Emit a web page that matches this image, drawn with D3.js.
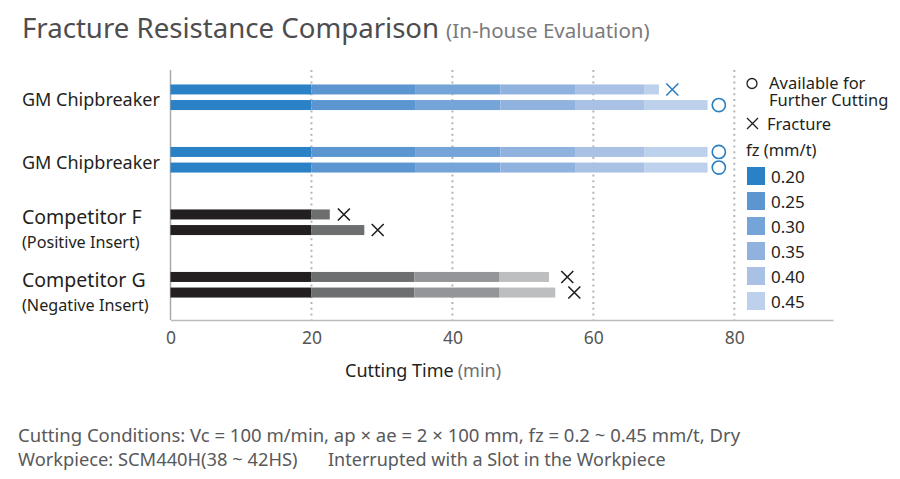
<!DOCTYPE html>
<html>
<head>
<meta charset="utf-8">
<script src="https://cdn.jsdelivr.net/npm/d3@7"></script>
<style>
  body { margin: 0; background: #fff; }
  svg { display: block; font-family: "Noto Sans", sans-serif; }
</style>
</head>
<body>
<svg id="chart" width="900" height="479"></svg>
<script>
// categories shown on the left
const categories = ['GM Chipbreaker', 'GM Chipbreaker', 'Competitor F', 'Competitor G'];
const subLabels = ['', '', '(Positive Insert)', '(Negative Insert)'];

// fz steps (legend)
const fzSteps = ['0.20', '0.25', '0.30', '0.35', '0.40', '0.45'];
const blues = ['#2a81c6', '#5b96d0', '#74a4d8', '#90b2de', '#a8c1e5', '#bdd0ec'];
const greys = ['#231f20', '#6d6e70', '#939598', '#bcbec0'];

// cumulative cutting time (min) at end of each fz step, two tests per category
const gmTopRow = [20, 34.7, 46.8, 57.4, 67.2, 69.3];
const gmBottomRow = [20, 34.7, 46.8, 57.4, 67.2, 76.2];
const gm2TopRow = [20, 34.7, 46.8, 57.4, 67.2, 76.2];
const gm2BottomRow = [20, 34.7, 46.8, 57.4, 67.2, 76.2];
const compFTopRow = [20, 22.6];
const compFBottomRow = [20, 27.5];
const compGTopRow = [20, 34.6, 46.7, 53.7];
const compGBottomRow = [20, 34.6, 46.7, 54.6];

// result markers: 'x' = fracture, 'o' = available for further cutting
const resultTypes = [['x', 'o'], ['o', 'o'], ['x', 'x'], ['x', 'x']];
const resultTimes = [[71.2, 77.8], [77.8, 77.8], [24.6, 29.4], [56.3, 57.3]];

const xTicks = [0, 20, 40, 60, 80];

const rows = [
  [gmTopRow, gmBottomRow],
  [gm2TopRow, gm2BottomRow],
  [compFTopRow, compFBottomRow],
  [compGTopRow, compGBottomRow]
];

const svg = d3.select('#chart');
const plot = { left: 170.5, right: 833, top: 70, bottom: 320 };

const x = d3.scaleLinear().domain([0, 94]).range([plot.left, plot.right]);
const y = d3.scaleBand().domain(d3.range(categories.length)).range([66, 316]);
const rowOffset = d3.scaleOrdinal().domain([0, 1]).range([-7.8, 7.8]);
const barH = 10;

// title
const title = svg.append('text').attr('x', 22).attr('y', 38)
  .attr('font-size', 27.6).attr('fill', '#4d4d4f');
title.append('tspan').text('Fracture Resistance Comparison');
title.append('tspan').attr('font-size', 20.5).attr('fill', '#7a7a7c').attr('dx', 7)
  .text('(In-house Evaluation)');

// grid
svg.append('g')
  .selectAll('line')
  .data(xTicks.filter(d => d > 0))
  .join('line')
  .attr('x1', d => x(d)).attr('x2', d => x(d))
  .attr('y1', plot.top).attr('y2', plot.bottom)
  .attr('stroke', '#b5b5b5').attr('stroke-width', 2)
  .attr('stroke-dasharray', '2,3.8');

// axes
const xAxis = svg.append('g')
  .attr('transform', `translate(0,${plot.bottom})`)
  .call(d3.axisBottom(x).tickValues(xTicks).tickSize(0).tickPadding(12));
xAxis.select('.domain').attr('stroke', '#bcbcbc').attr('stroke-width', 1.5);
xAxis.selectAll('text').attr('font-size', 17.5).attr('fill', '#555')
  .attr('font-family', '"Noto Sans", sans-serif');

svg.append('line')
  .attr('x1', plot.left).attr('x2', plot.left)
  .attr('y1', plot.top).attr('y2', plot.bottom)
  .attr('stroke', '#aaa').attr('stroke-width', 1.5);

const xTitle = svg.append('text').attr('x', 345).attr('y', 377)
  .attr('font-size', 18).attr('fill', '#231f20');
xTitle.append('tspan').text('Cutting Time');
xTitle.append('tspan').attr('fill', '#6d6e70').attr('dx', 4).text('(min)');

// bars
rows.forEach((pair, gi) => {
  const palette = gi < 2 ? blues : greys;
  pair.forEach((ends, ri) => {
    const yc = y(gi) + y.bandwidth() / 2 + rowOffset(ri);
    svg.append('g')
      .selectAll('rect')
      .data(ends)
      .join('rect')
      .attr('x', (d, i) => x(i === 0 ? 0 : ends[i - 1]))
      .attr('width', (d, i) => x(d) - x(i === 0 ? 0 : ends[i - 1]))
      .attr('y', yc - barH / 2)
      .attr('height', barH)
      .attr('fill', (d, i) => palette[i]);

    const type = resultTypes[gi][ri];
    const mx = x(resultTimes[gi][ri]);
    const col = gi < 2 ? '#2a7fc4' : '#231f20';
    if (type === 'o') {
      svg.append('circle').attr('cx', mx).attr('cy', yc).attr('r', 6.6)
        .attr('fill', 'none').attr('stroke', col).attr('stroke-width', 1.6);
    } else {
      const s = 6;
      svg.append('path')
        .attr('d', `M${mx - s},${yc - s}L${mx + s},${yc + s}M${mx - s},${yc + s}L${mx + s},${yc - s}`)
        .attr('stroke', col).attr('stroke-width', 1.6).attr('fill', 'none');
    }
  });
});

// category labels
categories.forEach((c, i) => {
  const yc = y(i) + y.bandwidth() / 2;
  if (subLabels[i]) {
    svg.append('text').attr('x', 22).attr('y', yc + 2)
      .attr('font-size', 19.5).attr('fill', '#231f20').text(c);
    svg.append('text').attr('x', 22).attr('y', yc + 26)
      .attr('font-size', 16.2).attr('fill', '#231f20').text(subLabels[i]);
  } else {
    svg.append('text').attr('x', 22).attr('y', yc + 9)
      .attr('font-size', 18).attr('fill', '#231f20').text(c);
  }
});

// legend
const lg = svg.append('g').attr('font-size', 16.5).attr('fill', '#231f20');
lg.append('circle').attr('cx', 752).attr('cy', 83.5).attr('r', 5)
  .attr('fill', 'none').attr('stroke', '#231f20').attr('stroke-width', 1.3);
const avail = lg.append('text').attr('x', 769).attr('y', 89);
avail.append('tspan').text('Available for');
avail.append('tspan').attr('x', 769).attr('dy', 17).text('Further Cutting');
lg.append('path').attr('d', 'M747,118L758,129M747,129L758,118')
  .attr('stroke', '#231f20').attr('stroke-width', 1.3);
lg.append('text').attr('x', 767).attr('y', 130).text('Fracture');
lg.append('text').attr('x', 746).attr('y', 156).text('fz (mm/t)');

const ly = d3.scaleBand().domain(fzSteps).range([167, 317]);
lg.selectAll('rect.sw')
  .data(fzSteps)
  .join('rect')
  .attr('class', 'sw')
  .attr('x', 747).attr('y', d => ly(d))
  .attr('width', 18).attr('height', 18)
  .attr('fill', (d, i) => blues[i]);
lg.selectAll('text.lv')
  .data(fzSteps)
  .join('text')
  .attr('class', 'lv')
  .attr('x', 771).attr('y', d => ly(d) + 16)
  .attr('font-size', 17)
  .text(d => d);

// footnotes
const notes = svg.append('g').attr('fill', '#58595b');
notes.append('text').attr('x', 18).attr('y', 442).attr('font-size', 18.5)
  .text('Cutting Conditions: Vc = 100 m/min, ap \u00d7 ae = 2 \u00d7 100 mm, fz = 0.2 ~ 0.45 mm/t, Dry');
notes.append('text').attr('x', 18).attr('y', 466).attr('font-size', 18.3)
  .text('Workpiece: SCM440H(38 ~ 42HS)');
notes.append('text').attr('x', 328).attr('y', 466).attr('font-size', 18)
  .text('Interrupted with a Slot in the Workpiece');
</script>
</body>
</html>
